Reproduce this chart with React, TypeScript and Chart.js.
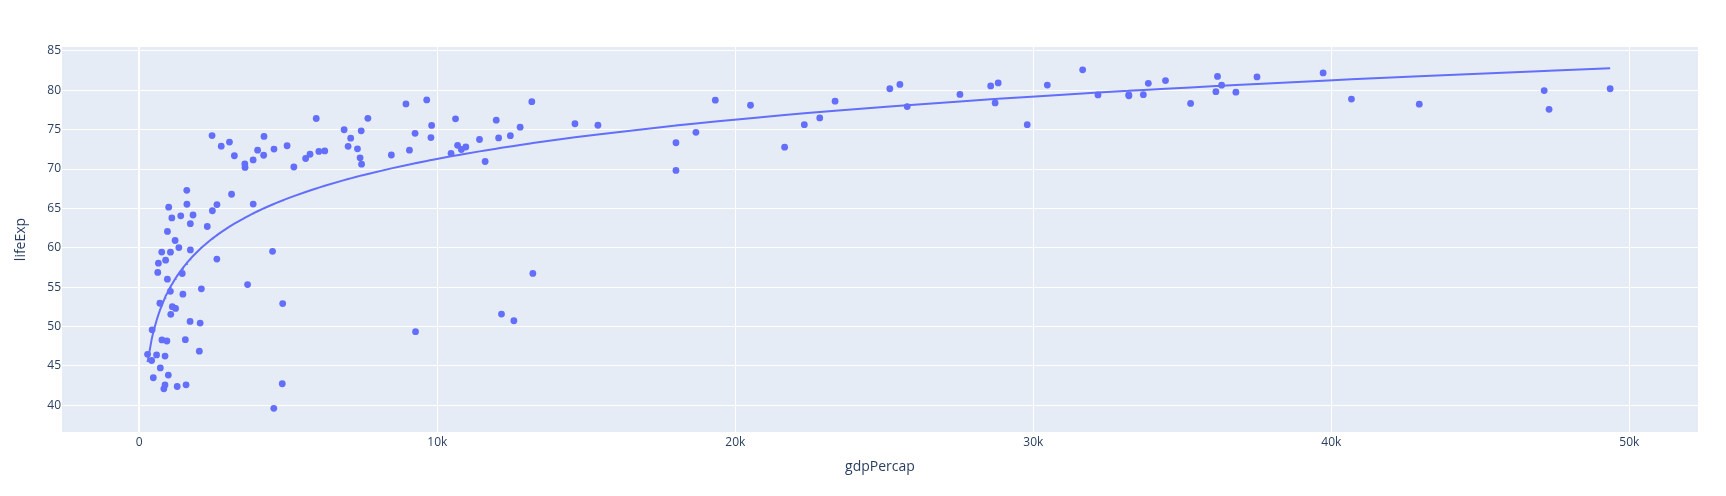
import React, { useEffect, useRef } from "react";
import { Chart, registerables } from "chart.js";

Chart.register(...registerables);

// Gapminder 2007: one point per country
const countries = [
  "Afghanistan", "Albania", "Algeria", "Angola", "Argentina", "Australia", "Austria", "Bahrain", "Bangladesh", "Belgium",
  "Benin", "Bolivia", "Bosnia and Herzegovina", "Botswana", "Brazil", "Bulgaria", "Burkina Faso", "Burundi", "Cambodia", "Cameroon",
  "Canada", "Central African Republic", "Chad", "Chile", "China", "Colombia", "Comoros", "Congo, Dem. Rep.", "Congo, Rep.", "Costa Rica",
  "Cote d'Ivoire", "Croatia", "Cuba", "Czech Republic", "Denmark", "Djibouti", "Dominican Republic", "Ecuador", "Egypt", "El Salvador",
  "Equatorial Guinea", "Eritrea", "Ethiopia", "Finland", "France", "Gabon", "Gambia", "Germany", "Ghana", "Greece",
  "Guatemala", "Guinea", "Guinea-Bissau", "Haiti", "Honduras", "Hong Kong, China", "Hungary", "Iceland", "India", "Indonesia",
  "Iran", "Iraq", "Ireland", "Israel", "Italy", "Jamaica", "Japan", "Jordan", "Kenya", "Korea, Dem. Rep.",
  "Korea, Rep.", "Kuwait", "Lebanon", "Lesotho", "Liberia", "Libya", "Madagascar", "Malawi", "Malaysia", "Mali",
  "Mauritania", "Mauritius", "Mexico", "Mongolia", "Montenegro", "Morocco", "Mozambique", "Myanmar", "Namibia", "Nepal",
  "Netherlands", "New Zealand", "Nicaragua", "Niger", "Nigeria", "Norway", "Oman", "Pakistan", "Panama", "Paraguay",
  "Peru", "Philippines", "Poland", "Portugal", "Puerto Rico", "Reunion", "Romania", "Rwanda", "Sao Tome and Principe", "Saudi Arabia",
  "Senegal", "Serbia", "Sierra Leone", "Singapore", "Slovak Republic", "Slovenia", "Somalia", "South Africa", "Spain", "Sri Lanka",
  "Sudan", "Swaziland", "Sweden", "Switzerland", "Syria", "Taiwan", "Tanzania", "Thailand", "Togo", "Trinidad and Tobago",
  "Tunisia", "Turkey", "Uganda", "United Kingdom", "United States", "Uruguay", "Venezuela", "Vietnam", "West Bank and Gaza", "Yemen, Rep.",
  "Zambia", "Zimbabwe",
];

const gdpPercap = [
  974.6, 5937.0, 6223.4, 4797.2, 12779.4, 34435.4, 36126.5, 29796.0, 1391.3, 33692.6,
  1441.3, 3822.1, 7446.3, 12569.9, 9065.8, 10680.8, 1217.0, 430.1, 1713.8, 2042.1,
  36319.2, 706.0, 1704.1, 13171.6, 4959.1, 7006.6, 986.1, 277.6, 3632.6, 9645.1,
  1544.8, 14619.2, 8948.1, 22833.3, 35278.4, 2082.5, 6025.4, 6873.3, 5581.2, 5728.4,
  12154.1, 641.4, 690.8, 33207.1, 30470.0, 13206.5, 752.7, 32170.4, 1327.6, 27538.4,
  5186.1, 942.7, 579.2, 1201.6, 3548.3, 39725.0, 18008.9, 36180.8, 2452.2, 3540.7,
  11605.7, 4471.1, 40676.0, 25523.3, 28569.7, 7320.9, 31656.1, 4519.5, 1463.2, 1593.1,
  23348.1, 47307.0, 10461.1, 1569.3, 414.5, 12057.5, 1044.8, 759.3, 12451.7, 1042.6,
  1803.2, 10957.0, 11977.6, 3095.8, 9253.9, 3820.2, 823.7, 944.0, 4811.1, 1091.4,
  36797.9, 25185.0, 2749.3, 619.7, 2014.0, 49357.2, 22316.2, 2606.0, 9809.2, 4172.8,
  7408.9, 3190.5, 15389.9, 20509.6, 19328.7, 7670.1, 10808.5, 863.1, 1598.4, 21654.8,
  1712.5, 9786.5, 862.5, 47143.2, 18678.3, 25768.3, 926.1, 9269.7, 28821.1, 3970.1,
  2602.4, 4513.5, 33859.7, 37506.4, 4184.5, 28718.3, 1107.5, 7458.4, 883.0, 18008.5,
  7092.9, 8458.3, 1056.4, 33203.3, 42951.7, 10611.5, 11415.8, 2441.6, 3025.3, 2280.8,
  1271.2, 469.7,
];

const lifeExp = [
  43.83, 76.42, 72.30, 42.73, 75.32, 81.24, 79.83, 75.64, 64.06, 79.44,
  56.73, 65.55, 74.85, 50.73, 72.39, 73.01, 52.30, 49.58, 59.72, 50.43,
  80.65, 44.74, 50.65, 78.55, 72.96, 72.89, 65.15, 46.46, 55.32, 78.78,
  48.33, 75.75, 78.27, 76.49, 78.33, 54.79, 72.24, 74.99, 71.34, 71.88,
  51.58, 58.04, 52.95, 79.31, 80.66, 56.74, 59.45, 79.41, 60.02, 79.48,
  70.26, 56.01, 46.39, 60.92, 70.20, 82.21, 73.34, 81.76, 64.70, 70.65,
  70.96, 59.55, 78.89, 80.75, 80.55, 72.57, 82.60, 72.54, 54.11, 67.30,
  78.62, 77.59, 71.99, 42.59, 45.68, 73.95, 59.44, 48.30, 74.24, 54.47,
  64.16, 72.80, 76.20, 66.80, 74.54, 71.16, 42.08, 62.07, 52.91, 63.79,
  79.76, 80.20, 72.90, 56.87, 46.86, 80.20, 75.64, 65.48, 75.54, 71.75,
  71.42, 71.69, 75.56, 78.10, 78.75, 76.44, 72.48, 46.24, 65.53, 72.78,
  63.06, 74.00, 42.57, 79.97, 74.66, 77.93, 48.16, 49.34, 80.94, 72.40,
  58.56, 39.61, 80.88, 81.70, 74.14, 78.40, 52.52, 70.62, 58.42, 69.82,
  73.92, 71.78, 51.54, 79.43, 78.24, 76.38, 73.75, 74.25, 73.42, 62.70,
  42.38, 43.49,
];

const xTickValues = [0, 10000, 20000, 30000, 40000, 50000];
const yTickValues = [40, 45, 50, 55, 60, 65, 70, 75, 80, 85];

// OLS trendline of lifeExp on log(gdpPercap), evaluated at each data x (as plotly does)
function logTrend(xs: number[], ys: number[]) {
  const n = xs.length;
  const lx = xs.map((v) => Math.log10(v));
  const mx = lx.reduce((a, b) => a + b, 0) / n;
  const my = ys.reduce((a, b) => a + b, 0) / n;
  let sxy = 0;
  let sxx = 0;
  for (let i = 0; i < n; i++) {
    sxy += (lx[i] - mx) * (ys[i] - my);
    sxx += (lx[i] - mx) * (lx[i] - mx);
  }
  const slope = sxy / sxx;
  const icpt = my - slope * mx;
  return [...xs]
    .sort((a, b) => a - b)
    .map((x) => ({ x, y: icpt + slope * Math.log10(x) }));
}

const FONT = '"Open Sans", verdana, arial, sans-serif';
const TEXT = "#2a3f5f";
const MARK = "#636efa";

const plotBg = {
  id: "plotBg",
  beforeDraw(chart: any) {
    const { ctx, chartArea } = chart;
    if (!chartArea) return;
    ctx.save();
    ctx.fillStyle = "#E5ECF6";
    ctx.fillRect(chartArea.left, chartArea.top, chartArea.width, chartArea.height);
    ctx.restore();
  },
};

export default function App() {
  const ref = useRef<HTMLCanvasElement | null>(null);

  useEffect(() => {
    document.body.style.margin = "0";
    if (!ref.current) return;
    const points = gdpPercap.map((x, i) => ({ x, y: lifeExp[i] }));
    const chart = new Chart(ref.current, {
      type: "scatter",
      data: {
        datasets: [
          {
            label: "trendline",
            data: logTrend(gdpPercap, lifeExp),
            showLine: true,
            borderColor: MARK,
            borderWidth: 2,
            pointRadius: 0,
            pointHoverRadius: 0,
            fill: false,
            tension: 0,
          },
          {
            label: "countries",
            data: points,
            pointRadius: 3.4,
            pointHoverRadius: 3.4,
            pointBackgroundColor: MARK,
            pointBorderWidth: 0,
            borderWidth: 0,
            backgroundColor: MARK,
          },
        ],
      },
      options: {
        responsive: false,
        animation: false,
        events: [],
        layout: { padding: { top: 47, right: 28, bottom: 0, left: 0 } },
        plugins: {
          legend: { display: false },
          tooltip: { enabled: false },
        },
        scales: {
          x: {
            type: "linear",
            min: -2594,
            max: 52305,
            afterFit: (s: any) => {
              s.height = 64;
            },
            afterBuildTicks: (s: any) => {
              s.ticks = xTickValues.map((v) => ({ value: v }));
            },
            border: { display: false },
            grid: {
              color: "#ffffff",
              lineWidth: (c: any) => (c.tick && c.tick.value === 0 ? 2 : 1),
              drawTicks: false,
            },
            ticks: {
              padding: 3,
              color: TEXT,
              font: { family: FONT, size: 12 },
              maxRotation: 0,
              callback: (v: any) => (v === 0 ? "0" : `${Number(v) / 1000}k`),
            },
            title: {
              display: true,
              text: "gdpPercap",
              color: TEXT,
              font: { family: FONT, size: 14 },
              padding: { top: 0, bottom: 21 },
            },
          },
          y: {
            type: "linear",
            min: 36.6,
            max: 85.5,
            afterFit: (s: any) => {
              s.width = 62;
            },
            afterBuildTicks: (s: any) => {
              s.ticks = yTickValues.map((v) => ({ value: v }));
            },
            border: { display: false },
            grid: {
              color: "#ffffff",
              lineWidth: 1,
              drawTicks: false,
            },
            ticks: {
              padding: 1,
              color: TEXT,
              font: { family: FONT, size: 12 },
              callback: (v: any) => `${v}`,
            },
            title: {
              display: true,
              text: "lifeExp",
              color: TEXT,
              font: { family: FONT, size: 14 },
              padding: { top: 13, bottom: 0 },
            },
          },
        },
      },
      plugins: [plotBg],
    });
    return () => chart.destroy();
  }, []);

  return (
    <div style={{ position: "absolute", left: 0, top: 0, width: 1726, height: 496, background: "#ffffff" }}>
      <canvas ref={ref} width={1726} height={496} style={{ display: "block", width: 1726, height: 496 }} />
    </div>
  );
}
